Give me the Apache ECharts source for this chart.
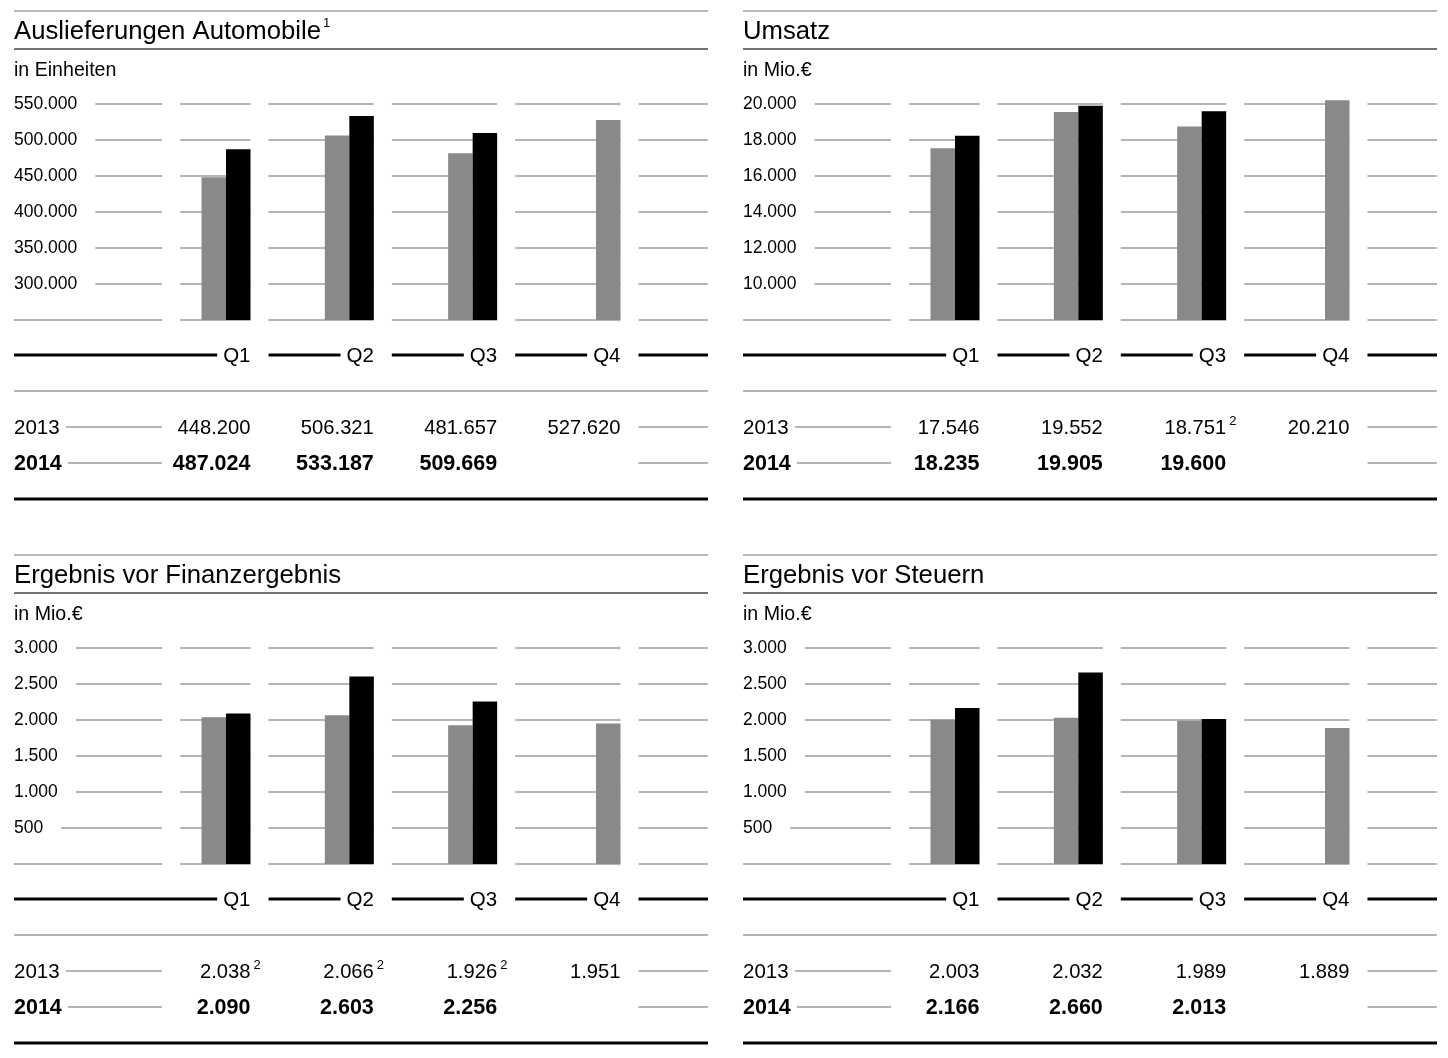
<!DOCTYPE html>
<html>
<head>
<meta charset="utf-8">
<script src="https://cdn.jsdelivr.net/npm/echarts@6/dist/echarts.min.js"></script>
<style>
html, body { margin: 0; padding: 0; background: #fff; }
#main { width: 1448px; height: 1058px; }
</style>
</head>
<body>
<div id="main"></div>
<script>
var quarters = ['Q1', 'Q2', 'Q3', 'Q4'];
var years = ['2013', '2014'];

var titles = ['Auslieferungen Automobile', 'Umsatz', 'Ergebnis vor Finanzergebnis', 'Ergebnis vor Steuern'];
var titleNotes = ['1', '', '', ''];
var units = ['in Einheiten', 'in Mio.\u20ac', 'in Mio.\u20ac', 'in Mio.\u20ac'];

var deliveries2013 = [448200, 506321, 481657, 527620];
var deliveries2014 = [487024, 533187, 509669];
var revenue2013 = [17546, 19552, 18751, 20210];
var revenue2014 = [18235, 19905, 19600];
var ebit2013 = [2038, 2066, 1926, 1951];
var ebit2014 = [2090, 2603, 2256];
var ebt2013 = [2003, 2032, 1989, 1889];
var ebt2014 = [2166, 2660, 2013];

// footnote marks on the 2013 figures
var deliveriesNotes2013 = ['', '', '', ''];
var revenueNotes2013 = ['', '', '2', ''];
var ebitNotes2013 = ['2', '2', '2', ''];
var ebtNotes2013 = ['', '', '', ''];

// y axis ranges (lowest value is the baseline, no label)
var yMin = [250000, 8000, 0, 0];
var yMax = [550000, 20000, 3000, 3000];
var yStep = [50000, 2000, 500, 500];

var GRAY = '#898989';
var LINE = '#9c9c9c';
var FONT = '"Liberation Sans", Arial, Helvetica, sans-serif';
var PW = 694;     // panel width
var BARW = 24.5;

var panels = [
    { v13: deliveries2013, v14: deliveries2014, notes: deliveriesNotes2013, x0: 14, y0: 0 },
    { v13: revenue2013, v14: revenue2014, notes: revenueNotes2013, x0: 743, y0: 0 },
    { v13: ebit2013, v14: ebit2014, notes: ebitNotes2013, x0: 14, y0: 544 },
    { v13: ebt2013, v14: ebt2014, notes: ebtNotes2013, x0: 743, y0: 544 }
];

function fmt(v) {
    return String(v).replace(/\B(?=(\d{3})+(?!\d))/g, '.');
}

var measureCtx = document.createElement('canvas').getContext('2d');
function textW(str, size, weight) {
    measureCtx.font = (weight || 'normal') + ' ' + size + 'px ' + FONT;
    return measureCtx.measureText(str).width;
}

var chart = echarts.init(document.getElementById('main'));

var grids = [], xAxes = [], yAxes = [], series = [];
panels.forEach(function (p, k) {
    grids.push({ left: p.x0 + 150.33, top: p.y0 + 104, width: 493.33, height: 216 });
    xAxes.push({ type: 'category', gridIndex: k, data: quarters, show: false });
    yAxes.push({
        type: 'value', gridIndex: k,
        min: yMin[k], max: yMax[k], interval: yStep[k], startValue: yMin[k],
        axisLine: { show: false }, axisTick: { show: false }, splitLine: { show: false },
        axisLabel: {
            align: 'left', margin: 150.33, fontSize: 17.5, color: '#000', fontFamily: FONT,
            padding: [3, 0, 0, 0],
            formatter: function (v) { return v === yMin[k] ? '' : fmt(v); }
        }
    });
    var d13 = [], d14 = [];
    quarters.forEach(function (q, i) {
        if (p.v14[i] == null) {
            // no 2014 figure yet: the 2013 bar takes the right slot
            d13.push(null);
            d14.push({ value: p.v13[i], itemStyle: { color: GRAY } });
        } else {
            d13.push(p.v13[i]);
            d14.push(p.v14[i]);
        }
    });
    series.push({
        name: years[0], type: 'bar', xAxisIndex: k, yAxisIndex: k, data: d13,
        barWidth: BARW, barGap: '0%', clip: false, silent: true,
        itemStyle: { color: GRAY }
    });
    series.push({
        name: years[1], type: 'bar', xAxisIndex: k, yAxisIndex: k, data: d14,
        barWidth: BARW, barGap: '0%', clip: false, silent: true,
        itemStyle: { color: '#000' }
    });
});

chart.setOption({
    animation: false,
    grid: grids,
    xAxis: xAxes,
    yAxis: yAxes,
    series: series
});

// rules, axis row and table, placed from the axes
var gfx = [];
function hline(xa, xb, y, w, color) {
    gfx.push({ type: 'line', silent: true, z: 0,
        shape: { x1: xa, y1: y, x2: xb, y2: y },
        style: { stroke: color, lineWidth: w } });
}
function text(str, x, y, size, weight, align) {
    gfx.push({ type: 'text', silent: true, z: 10, x: x, y: y,
        style: { text: str, fontSize: size, fontWeight: weight, fontFamily: FONT,
            fill: '#000', align: align, verticalAlign: 'middle' } });
}

panels.forEach(function (p, k) {
    var x0 = p.x0, y0 = p.y0, x1 = x0 + PW;
    var r = quarters.map(function (q, i) {
        return chart.convertToPixel({ gridIndex: k }, [i, yMin[k]])[0] + BARW;
    });

    hline(x0, x1, y0 + 11, 1.5, '#a0a0a0');
    text(titles[k], x0, y0 + 32, 25.7, 'normal', 'left');
    if (titleNotes[k]) {
        text(titleNotes[k], x0 + textW(titles[k], 25.7) + 2, y0 + 23, 13, 'normal', 'left');
    }
    hline(x0, x1, y0 + 49, 1.5, '#444');
    text(units[k], x0, y0 + 71, 19.6, 'normal', 'left');

    // segmented grid lines
    var starts = [x0 + 166, r[0] + 18, r[1] + 18, r[2] + 18, r[3] + 18];
    var ends = [r[0], r[1], r[2], r[3], x1];
    for (var t = yMin[k]; t <= yMax[k]; t += yStep[k]) {
        var y = chart.convertToPixel({ gridIndex: k }, [0, t])[1];
        var lw = t === yMin[k] ? 0 : textW(fmt(t), 17.5) + 18;
        hline(x0 + lw, x0 + 148, y, 1.5, LINE);
        for (var s = 0; s < starts.length; s++) hline(starts[s], ends[s], y, 1.5, LINE);
    }

    // quarter axis
    var ya = y0 + 355;
    quarters.forEach(function (q, i) {
        var st = i === 0 ? x0 : r[i - 1] + 18;
        hline(st, r[i] - textW(q, 20.5) - 6, ya, 3, '#000');
        text(q, r[i], ya + 1, 20.5, 'normal', 'right');
    });
    hline(r[3] + 18, x1, ya, 3, '#000');

    hline(x0, x1, y0 + 391, 1.5, LINE);

    // table rows
    var y13 = y0 + 427, y14 = y0 + 463;
    text(years[0], x0, y13 + 1, 20.5, 'normal', 'left');
    hline(x0 + 52, x0 + 148, y13, 1.5, LINE);
    text(years[1], x0, y14 + 1, 21.5, 'bold', 'left');
    hline(x0 + 54, x0 + 148, y14, 1.5, LINE);
    quarters.forEach(function (q, i) {
        text(fmt(p.v13[i]), r[i], y13 + 1, 20.2, 'normal', 'right');
        if (p.notes[i]) text(p.notes[i], r[i] + 3, y13 - 6, 13, 'normal', 'left');
        if (p.v14[i] != null) text(fmt(p.v14[i]), r[i], y14 + 1, 21.5, 'bold', 'right');
    });
    hline(r[3] + 18, x1, y13, 1.5, LINE);
    hline(r[3] + 18, x1, y14, 1.5, LINE);

    hline(x0, x1, y0 + 499, 3, '#000');
});

chart.setOption({ graphic: { elements: gfx } });
</script>
</body>
</html>
